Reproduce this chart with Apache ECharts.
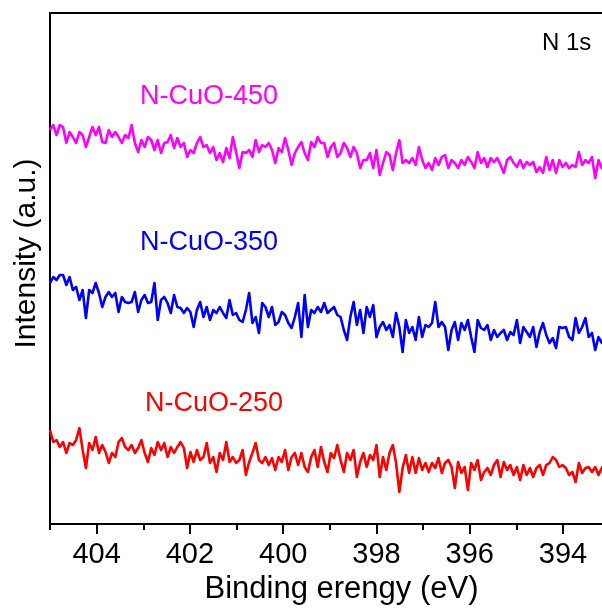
<!DOCTYPE html>
<html>
<head>
<meta charset="utf-8">
<title>N 1s XPS</title>
<script src="https://cdn.jsdelivr.net/npm/echarts@6/dist/echarts.min.js"></script>
<style>
  html, body { margin: 0; padding: 0; background: #fff; overflow: hidden; }
  #chart { width: 602px; height: 608px; }
</style>
</head>
<body>
<div id="chart"></div>
<script>
// Binding-energy grid of the scans (eV, descending)
const E_START = 405.0;
const E_STEP = 0.07;

// Tick positions on the binding-energy axis
const majorTicks = [394, 396, 398, 400, 402, 404];
const minorTicks = [393, 395, 397, 399, 401, 403, 405];

const seriesNames = ['N-CuO-450', 'N-CuO-350', 'N-CuO-250'];
const seriesColors = ['#ff00ff', '#0000ff', '#ff0000'];

// Intensity (a.u.), one value per energy step, offset per sample
const cuo450 = [
  421,426,416,426,424,408,419,414,408,419,
  416,404,414,424,416,424,409,408,421,414,
  419,414,408,416,413,426,408,399,411,404,
  414,411,401,411,398,408,409,416,403,413,
  404,408,394,401,398,408,414,404,406,398,
  404,391,398,389,403,393,414,399,383,399,
  398,401,394,411,399,406,404,408,401,388,
  403,399,413,401,386,398,404,409,398,391,
  409,404,414,408,408,394,404,408,394,398,
  408,403,
  394,404,398,383,391,391,398,383,401,376,
  388,399,396,381,398,411,388,391,388,393,
  386,404,391,383,388,381,393,386,394,396,
  383,391,388,383,391,386,394,389,383,399,
  388,393,384,393,389,393,386,378,391,394,
  388,384,391,383,389,386,389,379,384,378,
  394,381,391,378,391,384,388,383,386,384,
  399,386,391,388,394,373,391,383,380,386
];

const cuo350 = [
  268,274,271,276,276,266,274,261,264,251,
  261,233,261,258,268,258,244,254,259,254,
  258,239,254,249,248,249,259,239,251,256,
  248,249,268,231,251,254,248,238,256,244,
  243,238,243,239,224,241,249,234,244,231,
  241,238,244,238,233,251,236,238,231,229,
  241,258,228,234,218,248,244,234,244,226,
  229,239,236,228,223,234,248,214,256,224,
  241,238,244,239,248,238,241,244,236,234,
  221,
  211,234,249,226,241,218,244,234,246,214,
  224,229,221,226,214,238,224,199,231,218,
  224,211,234,214,226,224,228,249,224,229,
  224,201,221,229,211,228,221,231,214,199,
  231,223,221,226,211,221,214,218,221,211,
  219,216,231,208,224,219,214,224,204,219,
  228,216,208,213,203,224,223,224,214,211,
  233,218,224,233,214,218,201,214,208,216,205
];

const cuo250 = [
  121,109,111,104,109,98,108,106,111,123,
  101,83,108,101,114,98,106,99,88,98,
  94,109,113,104,101,106,98,103,111,98,
  89,103,96,109,101,108,94,104,98,104,
  109,103,83,99,89,101,91,94,108,88,
  94,79,98,91,109,89,94,88,91,101,
  76,89,98,108,91,88,94,86,93,81,
  94,89,101,81,94,98,86,98,84,79,
  94,101,84,104,89,79,98,93,106,91,
  79,98,91,101,74,89,98,84,96,91,
  106,74,94,81,98,106,88,59,83,96,
  78,94,78,93,81,88,79,88,83,93,
  78,88,91,84,63,89,78,84,61,88,
  81,91,71,79,83,76,86,91,74,89,
  81,86,76,84,71,86,76,83,74,83,
  86,76,86,88,94,91,84,86,83,76,
  79,69,88,78,83,84,79,84,76,83,88,79
];

const intensities = [cuo450, cuo350, cuo250];

function toPairs(values) {
  return values.map((v, i) => [+(E_START - i * E_STEP).toFixed(2), v]);
}

const FONT = 'Liberation Sans, Arial, sans-serif';
const chart = echarts.init(document.getElementById('chart'), null, { renderer: 'canvas' });

const option = {
  animation: false,
  backgroundColor: '#ffffff',
  // plot frame runs past the right edge of the canvas
  grid: {
    left: 50, top: 13, width: 583, height: 511,
    outerBoundsMode: 'none', containLabel: false,
    show: true, borderColor: '#000', borderWidth: 2, backgroundColor: 'transparent'
  },
  xAxis: [
    {
      type: 'value', inverse: true, min: 392.5, max: 405,
      name: 'Binding erengy (eV)', nameLocation: 'middle', nameGap: 49,
      nameTextStyle: { fontFamily: FONT, fontSize: 31, color: '#000' },
      axisLine: { show: true, lineStyle: { color: '#000', width: 2 } },
      axisTick: { show: true, length: 10, inside: false, customValues: majorTicks, lineStyle: { color: '#000', width: 2 } },
      axisLabel: { show: true, customValues: majorTicks, margin: 16, fontFamily: FONT, fontSize: 29, color: '#000' },
      splitLine: { show: false }
    },
    {
      type: 'value', inverse: true, min: 392.5, max: 405, position: 'bottom',
      axisLine: { show: false },
      axisTick: { show: true, length: 6, inside: false, customValues: minorTicks, lineStyle: { color: '#000', width: 2 } },
      axisLabel: { show: false },
      splitLine: { show: false }
    }
  ],
  yAxis: {
    type: 'value', min: 27, max: 538,
    name: 'Intensity (a.u.)', nameLocation: 'middle', nameGap: 8,
    nameTextStyle: { fontFamily: FONT, fontSize: 30, color: '#000', padding: [0, 0, 0, 30] },
    axisLine: { show: true, lineStyle: { color: '#000', width: 2 } },
    axisTick: { show: false },
    axisLabel: { show: false },
    splitLine: { show: false }
  },
  series: intensities.map((vals, k) => ({
    name: seriesNames[k],
    type: 'line',
    xAxisIndex: 0,
    data: toPairs(vals),
    showSymbol: false,
    symbol: 'none',
    clip: true,
    lineStyle: { color: seriesColors[k], width: 2.6, join: 'round' },
    emphasis: { disabled: true }
  })),
  graphic: [
    { type: 'text', left: 542, top: 31, style: { text: 'N 1s', font: '24px ' + FONT, fill: '#000' } },
    { type: 'text', left: 140, top: 83, style: { text: seriesNames[0], font: '27px ' + FONT, fill: seriesColors[0] } },
    { type: 'text', left: 140, top: 229, style: { text: seriesNames[1], font: '27px ' + FONT, fill: seriesColors[1] } },
    { type: 'text', left: 145, top: 390, style: { text: seriesNames[2], font: '27px ' + FONT, fill: seriesColors[2] } }
  ]
};

chart.setOption(option);
</script>
</body>
</html>
